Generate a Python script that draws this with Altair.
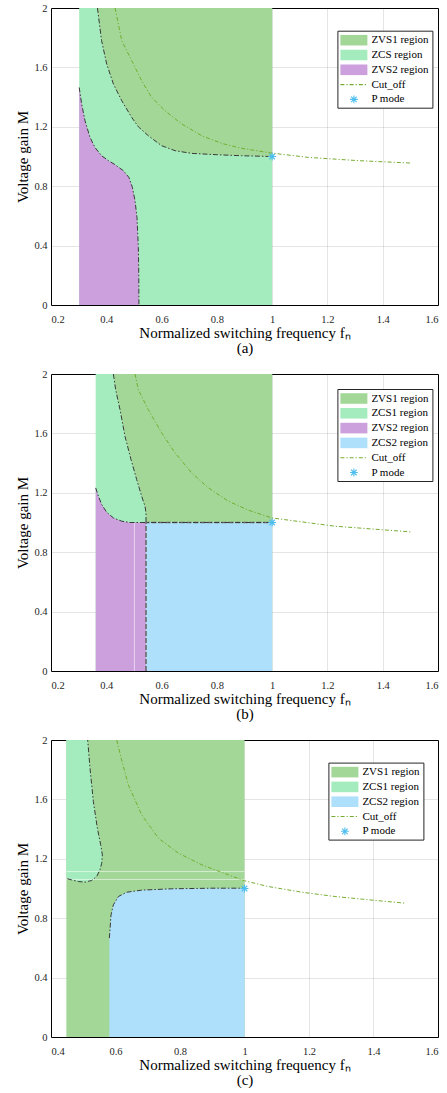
import math
import altair as alt
import pandas as pd

FONT = "Liberation Serif"
C_ZVS1 = "#a2d798"
C_ZCS1 = "#a4ecbe"
C_ZVS2 = "#cc9fdd"
C_ZCS2 = "#aee0fc"
C_CUT = "#77ac30"
C_P = "#4dbeee"
C_BND = "#3a3a3a"

# ---------------- panel (a) ----------------
a_region = [0.302, 1.0]
a_zvs1_fn = [0.368, 0.383, 0.4015, 0.4258, 0.4558, 0.492, 0.516, 0.552, 0.600, 0.649, 0.709, 0.800, 0.890, 1.0]
a_zvs1_m = [2.0, 1.78, 1.623, 1.488, 1.376, 1.263, 1.20, 1.14, 1.073, 1.039, 1.021, 1.012, 1.005, 1.0]
a_zvs2_fn = [0.302, 0.311, 0.323, 0.341, 0.359, 0.383, 0.408, 0.4316, 0.462, 0.482, 0.4945, 0.504, 0.511, 0.516, 0.5175, 0.518]
a_zvs2_m = [1.465, 1.353, 1.241, 1.129, 1.061, 1.005, 0.972, 0.945, 0.904, 0.859, 0.792, 0.702, 0.59, 0.388, 0.209, 0.0]
a_cut_fn = [0.4316, 0.456, 0.492, 0.528, 0.564, 0.6125, 0.673, 0.745, 0.818, 0.890, 0.9985, 1.131, 1.312, 1.5]
a_cut_m = [2.0, 1.78, 1.645, 1.51, 1.398, 1.308, 1.219, 1.14, 1.088, 1.055, 1.023, 0.994, 0.972, 0.956]
a_names = ["ZVS1 region", "ZCS region", "ZVS2 region", "Cut_off", "P mode"]

# ---------------- panel (b) ----------------
b_region = [0.3617, 1.0]
b_zvs1_fn = [0.4257, 0.434, 0.4497, 0.4677, 0.4895, 0.510, 0.528, 0.540, 0.5436, 0.5437, 1.0]
b_zvs1_m = [2.0, 1.894, 1.76, 1.58, 1.424, 1.289, 1.177, 1.110, 1.065, 1.0, 1.0]
b_zvs2_fn = [0.3617, 0.3715, 0.3834, 0.4015, 0.4258, 0.4558, 0.4858, 0.5437]
b_zvs2_m = [1.233, 1.177, 1.121, 1.069, 1.031, 1.009, 1.0, 1.0]
b_zcs2_fn = [0.5437, 1.0]
b_zcs2_m = [0.0, 1.0]
b_edge_fn = [0.5437, 0.5437, 1.0]
b_edge_m = [0.0, 1.0, 1.0]
b_cut_fn = [0.504, 0.516, 0.552, 0.6005, 0.6486, 0.709, 0.7695, 0.842, 0.914, 0.9985, 1.1076, 1.228, 1.4998]
b_cut_m = [2.0, 1.894, 1.76, 1.603, 1.469, 1.334, 1.233, 1.143, 1.083, 1.031, 1.004, 0.975, 0.937]
b_seam_fn = [0.5017]
b_seam_m = [0.0, 0.998]
b_names = ["ZVS1 region", "ZCS1 region", "ZVS2 region", "ZCS2 region", "Cut_off", "P mode"]

# ---------------- panel (c) ----------------
c_region = [0.4476, 1.0]
c_zcs1_m = [1.043, 1.047, 1.054, 1.058, 1.065, 1.081, 1.126, 1.170, 1.226, 1.294, 1.406, 1.585, 1.809, 2.0]
c_zcs1_left = [0.5055, 0.4848, 0.47, 0.4641, 0.4507, 0.4476, 0.4476, 0.4476, 0.4476, 0.4476, 0.4476, 0.4476, 0.4476, 0.4476]
c_zcs1_right = [0.5055, 0.52, 0.5262, 0.532, 0.537, 0.5417, 0.552, 0.5572, 0.5593, 0.5541, 0.5438, 0.5314, 0.521, 0.5138]
c_isl_fn = [0.4507, 0.4641, 0.4848, 0.5055, 0.5262, 0.5417, 0.552, 0.5572, 0.5593, 0.5541, 0.5438, 0.5314, 0.521, 0.5138]
c_isl_m = [1.065, 1.058, 1.047, 1.043, 1.054, 1.081, 1.126, 1.170, 1.226, 1.294, 1.406, 1.585, 1.809, 2.0]
c_zcs2_fn = [0.581, 0.5862, 0.5934, 0.609, 0.6348, 0.6814, 0.7745, 0.8986, 1.0]
c_zcs2_m = [0.666, 0.823, 0.89, 0.946, 0.975, 0.989, 0.998, 1.002, 1.002]
c_cut_fn = [0.6038, 0.619, 0.640, 0.681, 0.733, 0.795, 0.868, 0.950, 1.0, 1.074, 1.178, 1.281, 1.385, 1.499]
c_cut_m = [2.0, 1.865, 1.697, 1.496, 1.339, 1.238, 1.159, 1.092, 1.052, 1.013, 0.975, 0.946, 0.924, 0.901]
c_seam_m = [1.114, 1.061]
c_names = ["ZVS1 region", "ZCS1 region", "ZCS2 region", "Cut_off", "P mode"]

p_mode = [1.0, 1.0]
y_ticks = [0, 0.4, 0.8, 1.2, 1.6, 2.0]
x_ticks_ab = [0.2, 0.4, 0.6, 0.8, 1.0, 1.2, 1.4, 1.6]
x_ticks_c = [0.4, 0.6, 0.8, 1.0, 1.2, 1.4, 1.6]

# ---------------- legend symbol paths ----------------
SYM_SIZE = 169
R = math.sqrt(SYM_SIZE) / 2.0


def rect_path(x0, x1, y0, y1):
    return f"M{x0 / R:.3f},{y0 / R:.3f}H{x1 / R:.3f}V{y1 / R:.3f}H{x0 / R:.3f}Z"


PATCH = rect_path(-13.5, 13.5, -5.3, 5.3)

_segs = []
_x = -13.5
_k = 0
while _x < 13.5:
    L = 4.0 if _k % 2 == 0 else 1.2
    _segs.append(rect_path(_x, min(_x + L, 13.5), -0.55, 0.55))
    _x += L + 2.0
    _k += 1
DASHDOT = "".join(_segs)


def bar(angle_deg, L, t):
    a = math.radians(angle_deg)
    c, s = math.cos(a), math.sin(a)
    pts = [(-L, -t), (L, -t), (L, t), (-L, t)]
    rp = [(x * c - y * s, x * s + y * c) for x, y in pts]
    return "M" + "L".join(f"{x / R:.3f},{y / R:.3f}" for x, y in rp) + "Z"


STAR = "".join(bar(a, 3.9, 0.55) for a in (0, 45, 90, 135))

COLOR_OF = {"ZVS1 region": C_ZVS1, "ZCS region": C_ZCS1, "ZCS1 region": C_ZCS1,
            "ZVS2 region": C_ZVS2, "ZCS2 region": C_ZCS2, "Cut_off": C_CUT, "P mode": C_P}
SHAPE_OF = {"Cut_off": DASHDOT, "P mode": STAR}


def df(**cols):
    return pd.DataFrame(cols)


def panel(xdom, xticks, caption, layers_spec, names, lx, ly):
    xs = alt.Scale(domain=xdom, nice=False, zero=False)
    ys = alt.Scale(domain=[0, 2], nice=False)
    X = alt.X("fn:Q", scale=xs, title=["Normalized switching frequency f\u2099", caption],
              axis=alt.Axis(values=xticks, format="~g"))
    Y = alt.Y("M:Q", scale=ys, title="Voltage gain M",
              axis=alt.Axis(values=y_ticks, format="~g"))
    layers = []
    for kind, data, opts in layers_spec:
        if kind == "rect":
            layers.append(alt.Chart(data).mark_rect(color=opts["color"], opacity=1).encode(
                x=X, x2="fn2:Q", y=Y, y2="M2:Q"))
        elif kind == "area":
            layers.append(alt.Chart(data).mark_area(color=opts["color"], opacity=1).encode(
                x=X, y=Y, y2="M2:Q"))
        elif kind == "harea":
            layers.append(alt.Chart(data).mark_area(color=opts["color"], opacity=1, orient="horizontal").encode(
                x=X, x2="fn2:Q", y=Y))
        elif kind == "line":
            layers.append(alt.Chart(data).mark_line(color=opts["color"], strokeWidth=opts.get("w", 1.0),
                                                   strokeDash=opts["dash"]).encode(
                x=X, y=Y, order="i:Q"))
        elif kind == "vrule":
            layers.append(alt.Chart(data).mark_rule(color="white", opacity=0.55, strokeWidth=1).encode(
                x=X, y=Y, y2="M2:Q"))
        elif kind == "hrule":
            layers.append(alt.Chart(data).mark_rule(color="white", opacity=0.55, strokeWidth=1).encode(
                x=X, x2="fn2:Q", y=Y))
    leg = alt.Legend(title=None, orient="none", legendX=lx, legendY=ly, padding=3,
                     strokeColor="#262626", fillColor="white", labelFont=FONT, labelFontSize=11,
                     labelColor="black", symbolSize=SYM_SIZE, symbolStrokeWidth=0, symbolOffset=7,
                     labelOffset=11, rowPadding=2.8, symbolOpacity=1)
    pdata = df(fn=[p_mode[0]], M=[p_mode[1]], series=["P mode"])
    layers.append(alt.Chart(pdata).mark_point(filled=True, size=SYM_SIZE, opacity=1, strokeWidth=0).encode(
        x=X, y=Y,
        color=alt.Color("series:N", scale=alt.Scale(domain=names, range=[COLOR_OF[n] for n in names]), legend=leg),
        shape=alt.Shape("series:N", scale=alt.Scale(domain=names, range=[SHAPE_OF.get(n, PATCH) for n in names]), legend=leg),
    ))
    return alt.layer(*layers).properties(width=387, height=297)


def seq(fn, m):
    return df(fn=fn, M=m, i=list(range(len(fn))))


DASH_B = [5, 2, 1.5, 2]
DASH_C = [4, 2, 1.2, 2]

pa = panel([0.2, 1.6], x_ticks_ab, "(a)", [
    ("rect", df(fn=[a_region[0]], fn2=[a_region[1]], M=[0.0], M2=[2.0]), {"color": C_ZCS1}),
    ("area", df(fn=a_zvs1_fn, M=a_zvs1_m, M2=[2.0] * len(a_zvs1_fn)), {"color": C_ZVS1}),
    ("area", df(fn=a_zvs2_fn, M=a_zvs2_m, M2=[0.0] * len(a_zvs2_fn)), {"color": C_ZVS2}),
    ("line", seq(a_zvs1_fn, a_zvs1_m), {"color": C_BND, "dash": DASH_B}),
    ("line", seq(a_zvs2_fn, a_zvs2_m), {"color": C_BND, "dash": DASH_B}),
    ("line", seq(a_cut_fn, a_cut_m), {"color": C_CUT, "dash": DASH_C}),
], a_names, 286.4, 22.7)

pb = panel([0.2, 1.6], x_ticks_ab, "(b)", [
    ("rect", df(fn=[b_region[0]], fn2=[b_region[1]], M=[0.0], M2=[2.0]), {"color": C_ZCS1}),
    ("area", df(fn=b_zvs1_fn, M=b_zvs1_m, M2=[2.0] * len(b_zvs1_fn)), {"color": C_ZVS1}),
    ("area", df(fn=b_zvs2_fn, M=b_zvs2_m, M2=[0.0] * len(b_zvs2_fn)), {"color": C_ZVS2}),
    ("rect", df(fn=[b_zcs2_fn[0]], fn2=[b_zcs2_fn[1]], M=[b_zcs2_m[0]], M2=[b_zcs2_m[1]]), {"color": C_ZCS2}),
    ("vrule", df(fn=b_seam_fn, M=[b_seam_m[0]], M2=[b_seam_m[1]]), {}),
    ("line", seq(b_edge_fn, b_edge_m), {"color": "#6a6a6a", "dash": [5, 2], "w": 1.6}),
    ("line", seq(b_zvs1_fn, b_zvs1_m), {"color": C_BND, "dash": DASH_B}),
    ("line", seq(b_zvs2_fn, b_zvs2_m), {"color": C_BND, "dash": DASH_B}),
    ("line", seq(b_cut_fn, b_cut_m), {"color": C_CUT, "dash": DASH_C}),
], b_names, 286.4, 15)

pc = panel([0.4, 1.6], x_ticks_c, "(c)", [
    ("rect", df(fn=[c_region[0]], fn2=[c_region[1]], M=[0.0], M2=[2.0]), {"color": C_ZVS1}),
    ("harea", df(M=c_zcs1_m, fn=c_zcs1_right, fn2=c_zcs1_left), {"color": C_ZCS1}),
    ("area", df(fn=c_zcs2_fn, M=c_zcs2_m, M2=[0.0] * len(c_zcs2_fn)), {"color": C_ZCS2}),
    ("hrule", df(fn=[c_region[0]] * 2, fn2=[c_region[1]] * 2, M=c_seam_m), {}),
    ("line", seq(c_isl_fn, c_isl_m), {"color": C_BND, "dash": DASH_B}),
    ("line", seq(c_zcs2_fn, c_zcs2_m), {"color": C_BND, "dash": DASH_B}),
    ("line", seq(c_cut_fn, c_cut_m), {"color": C_CUT, "dash": DASH_C}),
], c_names, 277.4, 22.6)

chart = alt.vconcat(pa, pb, pc, spacing=12).resolve_scale(
    color="independent", shape="independent"
).resolve_legend(
    color="independent", shape="independent"
).properties(
    padding={"left": 15, "top": 2, "right": 0, "bottom": 0}
).configure(font=FONT).configure_view(
    stroke="black", strokeWidth=1
).configure_axis(
    zindex=1, grid=True, gridColor="black", gridOpacity=0.1, domain=False, ticks=False,
    labelFont=FONT, labelFontSize=10.5, labelColor="#262626",
    titleFont=FONT, titleFontSize=15, titleFontWeight="normal", titleColor="black",
    titleLineHeight=15
).configure_axisX(labelPadding=9, titlePadding=1).configure_axisY(labelPadding=4, titlePadding=3)

chart.save("out.html", embed_options={"renderer": "svg", "actions": False})
